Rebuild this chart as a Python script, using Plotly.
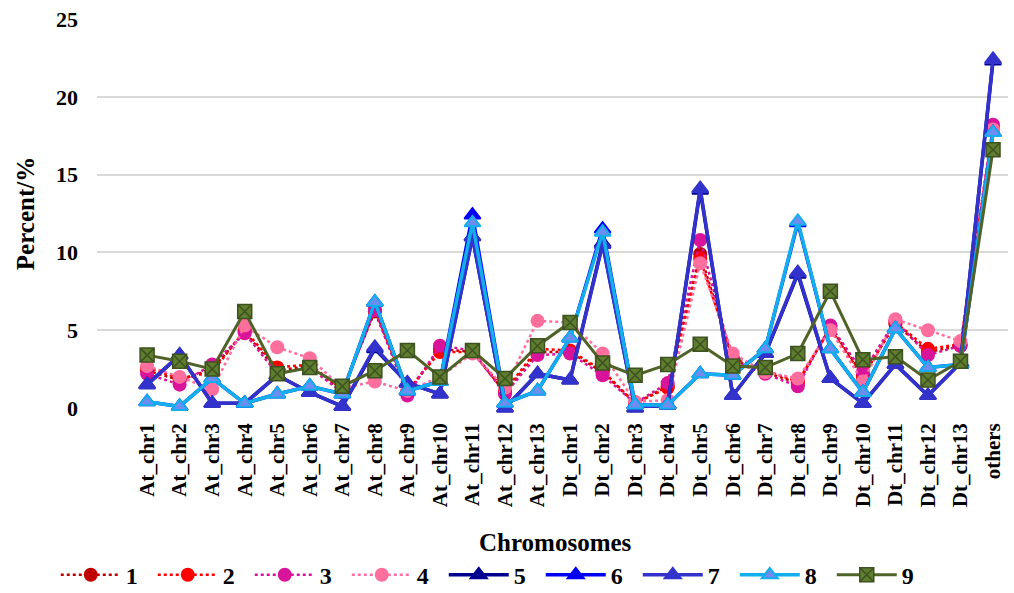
import plotly.graph_objects as go

chromosomes = [
    "At_chr1", "At_chr2", "At_chr3", "At_chr4", "At_chr5", "At_chr6", "At_chr7",
    "At_chr8", "At_chr9", "At_chr10", "At_chr11", "At_chr12", "At_chr13",
    "Dt_chr1", "Dt_chr2", "Dt_chr3", "Dt_chr4", "Dt_chr5", "Dt_chr6", "Dt_chr7",
    "Dt_chr8", "Dt_chr9", "Dt_chr10", "Dt_chr11", "Dt_chr12", "Dt_chr13", "others",
]

s1 = [2.4, 1.8, 2.5, 4.9, 2.4, 2.7, 1.1, 6.2, 1.0, 3.8, 3.6, 1.0, 3.6,
      3.6, 2.3, 0.3, 1.4, 9.9, 3.1, 2.3, 1.6, 5.2, 2.1, 5.4, 3.6, 4.0, 18.0]
s2 = [2.6, 1.9, 2.3, 5.0, 2.6, 2.8, 1.2, 6.3, 1.1, 3.6, 3.6, 1.1, 3.8,
      3.7, 2.4, 0.3, 1.3, 9.6, 3.2, 2.4, 1.7, 5.1, 2.0, 5.5, 3.8, 4.1, 17.9]
s3 = [2.2, 1.5, 2.8, 4.8, 2.2, 2.6, 1.0, 6.3, 0.8, 4.0, 3.7, 0.9, 3.4,
      3.5, 2.1, 0.3, 1.6, 10.8, 3.0, 2.2, 1.4, 5.3, 2.3, 5.6, 3.4, 4.0, 18.2]
s4 = [2.7, 2.0, 1.2, 5.3, 3.9, 3.2, 1.3, 1.7, 1.1, 2.0, 3.5, 1.3, 5.6,
      5.5, 3.5, 0.4, 0.5, 9.3, 3.5, 2.3, 1.9, 5.0, 1.7, 5.7, 5.0, 4.3, 17.9]
s5 = [1.5, 3.4, 0.3, 0.3, 2.1, 1.0, 0.1, 3.8, 1.6, 0.9, 11.0, 0.0, 2.2,
      1.8, 10.6, 0.0, 0.2, 14.0, 0.8, 3.5, 8.6, 1.9, 0.3, 2.8, 0.8, 2.9, 22.3]
s6 = [0.4, 0.1, 1.9, 0.3, 0.9, 1.4, 0.9, 6.8, 1.1, 1.7, 12.4, 0.3, 1.1,
      4.5, 11.5, 0.2, 0.2, 2.2, 2.1, 3.8, 11.9, 3.8, 1.0, 5.1, 2.6, 2.8, 17.7]
s7 = [1.5, 3.4, 0.3, 0.3, 2.1, 1.0, 0.1, 3.9, 1.6, 0.9, 11.0, 0.0, 2.2,
      1.8, 10.5, 0.0, 0.2, 14.1, 0.8, 3.5, 8.7, 1.9, 0.3, 2.8, 0.8, 2.9, 22.4]
s8 = [0.4, 0.1, 1.9, 0.3, 0.9, 1.4, 0.9, 6.8, 1.1, 1.7, 11.9, 0.3, 1.1,
      4.5, 11.3, 0.2, 0.2, 2.2, 2.1, 3.8, 12.0, 3.8, 1.0, 5.1, 2.6, 2.8, 17.7]
s9 = [3.4, 3.0, 2.5, 6.2, 2.2, 2.6, 1.4, 2.4, 3.7, 2.0, 3.7, 1.9, 4.0,
      5.5, 2.9, 2.1, 2.8, 4.1, 2.7, 2.6, 3.5, 7.5, 3.1, 3.3, 1.8, 3.0, 16.6]

series_names = ["1", "2", "3", "4", "5", "6", "7", "8", "9"]
series_values = [s1, s2, s3, s4, s5, s6, s7, s8, s9]

FONT = "Liberation Serif, Times New Roman, serif"

styles = [
    dict(color="#C00000", symbol="circle"),
    dict(color="#FF0000", symbol="circle"),
    dict(color="#D9139A", symbol="circle"),
    dict(color="#FF6F9E", symbol="circle"),
    dict(color="#000090", symbol="triangle-up"),
    dict(color="#0000F5", symbol="triangle-up"),
    dict(color="#3333CC", symbol="triangle-up"),
    dict(color="#13AEEE", symbol="triangle-up"),
    dict(color="#4F6228", symbol="square-x"),
]

fig = go.Figure()
for name, vals, st in zip(series_names, series_values, styles):
    if st["symbol"] == "circle":
        marker = dict(symbol="circle", size=14, color=st["color"])
        line = dict(color=st["color"], width=2.5, dash="dot")
    elif st["symbol"] == "triangle-up":
        fill = "#6F8CF0" if name == "8" else st["color"]
        marker = dict(symbol="triangle-up", size=14, color=fill,
                      line=dict(color=st["color"], width=2))
        line = dict(color=st["color"], width=3.5)
    else:
        marker = dict(symbol="square-x", size=14, color="#5E7D2E",
                      line=dict(color="#3E5120", width=1.5))
        line = dict(color=st["color"], width=3)
    fig.add_trace(go.Scatter(
        x=chromosomes, y=vals, name=name, mode="lines+markers",
        line=line, marker=marker, cliponaxis=False,
    ))

title_font = dict(family=FONT, size=25, color="black", weight="bold")

fig.update_layout(
    width=1014, height=593,
    margin=dict(l=97, r=6, t=19, b=185),
    paper_bgcolor="white", plot_bgcolor="white",
    font=dict(family=FONT, color="black"),
    showlegend=True,
    legend=dict(
        orientation="h",
        xref="container", x=0.055, xanchor="left",
        yref="container", y=0.03, yanchor="middle",
        font=dict(family=FONT, size=24, color="black", weight="bold"),
        itemwidth=60, entrywidth=22, traceorder="normal",
    ),
    xaxis=dict(
        type="category", range=[-1.54, 26.46], automargin=False,
        tickangle=-90, showgrid=False, zeroline=False, showline=False,
        tickfont=dict(family=FONT, size=21, color="black", weight="bold"),
        ticklabelstandoff=10,
    ),
    yaxis=dict(
        range=[0, 25], dtick=5, showgrid=True, gridcolor="#D9D9D9", gridwidth=1.5,
        zeroline=False, showline=False, automargin=False,
        tickfont=dict(family=FONT, size=22, color="black", weight="bold"),
        ticklabelstandoff=18,
        title=dict(text="Percent/%", standoff=14, font=title_font),
    ),
    annotations=[
        dict(text="Chromosomes", xref="paper", yref="paper", x=0.503, y=-0.347,
             xanchor="center", yanchor="middle", showarrow=False, font=title_font),
    ],
)

fig.write_html("out.html")
